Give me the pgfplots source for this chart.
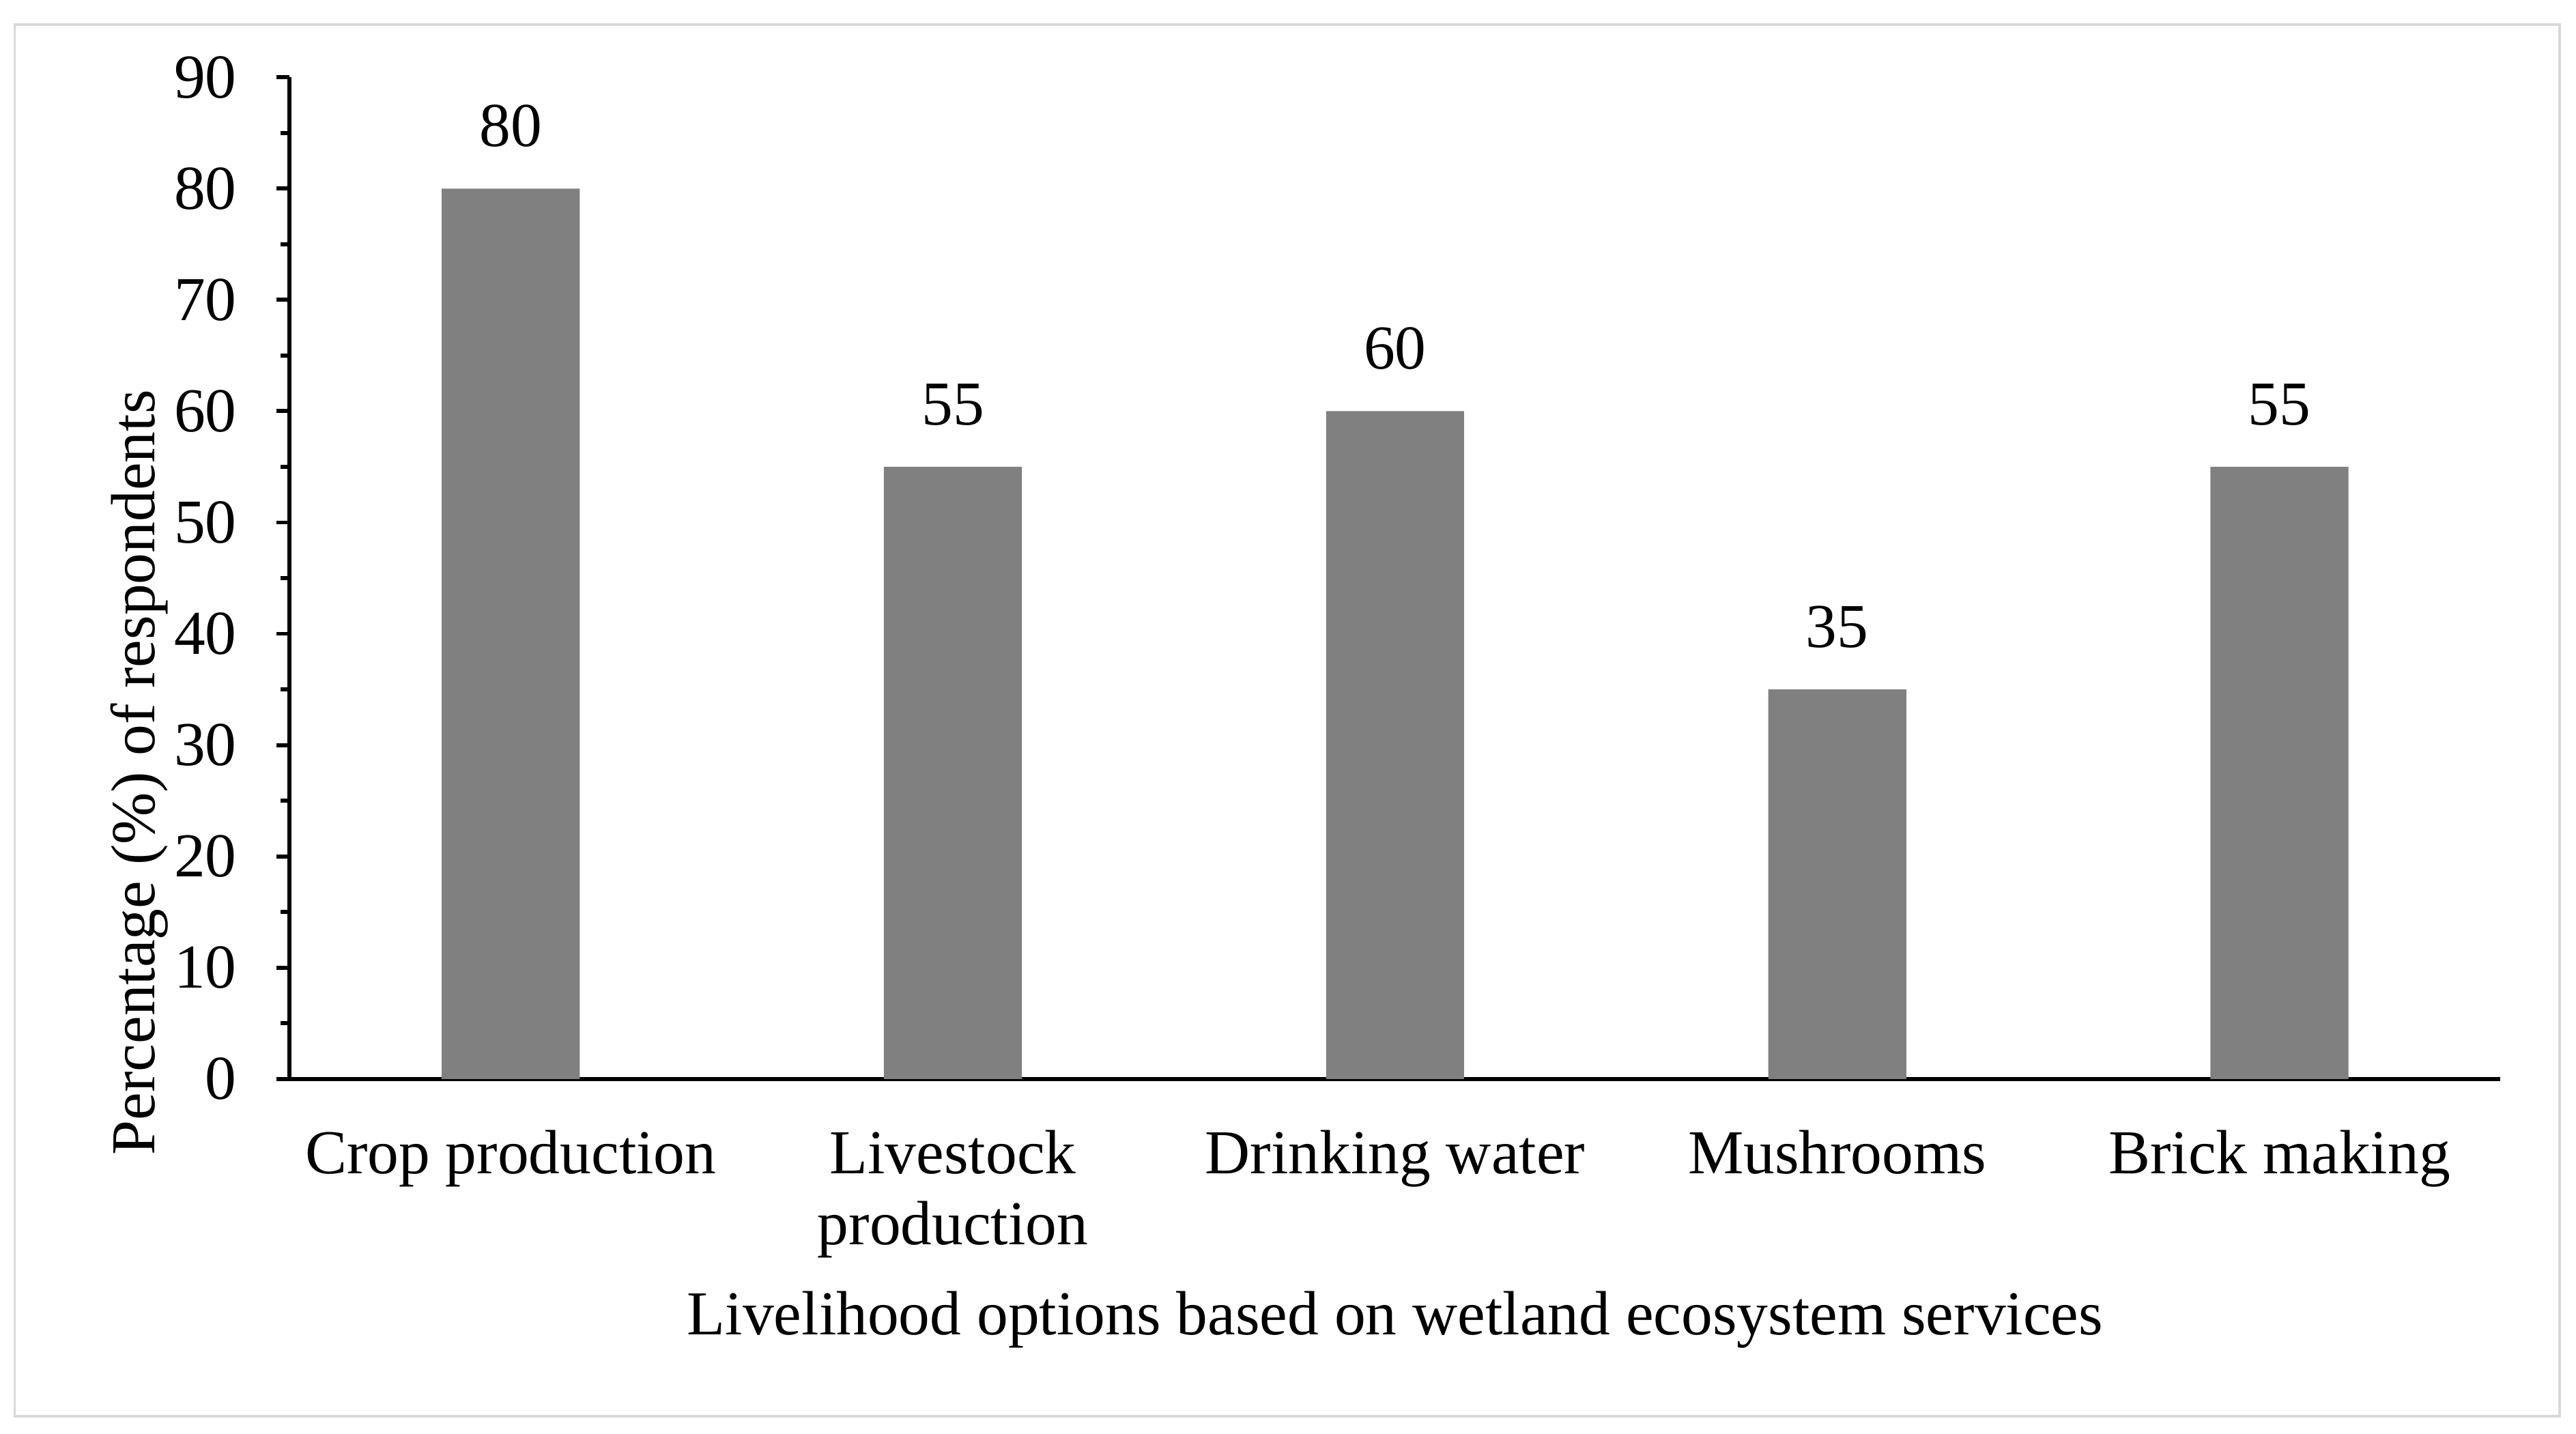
\documentclass[border=0pt]{standalone}
\usepackage{fontspec}
\setmainfont{Liberation Serif}
\usepackage{pgfplots}
\pgfplotsset{compat=1.18}

\definecolor{barfill}{HTML}{808080}
\definecolor{framegray}{HTML}{D9D9D9}

\begin{document}
\begin{tikzpicture}
\begin{axis}[
    name=ax,
    scale only axis,
    width=389.3pt, height=176.4pt,
    ybar, bar width=24.3pt,
    xmin=-0.5, xmax=4.5,
    ymin=0, ymax=90,
    xtick={0,1,2,3,4},
    xticklabels={Crop production, Livestock\\production, Drinking water, Mushrooms, Brick making},
    ytick={0,10,...,90},
    minor y tick num=1,
    axis x line*=bottom, axis y line*=left,
    axis line style={line width=0.7pt, -},
    x axis line style={shorten <=-2.3pt},
    tick align=outside,
    major tick length=2.3pt, minor tick length=1.6pt,
    xtick style={draw=none},
    ytick style={line width=0.7pt, black},
    /pgf/number format/assume math mode=true,
    tick label style={font=\fontsize{11}{12.5}\selectfont},
    xticklabel style={align=center, anchor=north, yshift=-3.2pt},
    yticklabel style={anchor=east, xshift=-3.5pt},
    ylabel={Percentage (\%) of respondents},
    ylabel style={font=\fontsize{11}{12.5}\selectfont, at={(axis description cs:-0.068,0.306)}, anchor=center, rotate=0},
    xlabel={Livelihood options based on wetland ecosystem services},
    xlabel style={font=\fontsize{11}{12.5}\selectfont, at={(axis description cs:0.5,-0.24)}, anchor=center},
    nodes near coords,
    nodes near coords style={font=\fontsize{11}{12.5}\selectfont, yshift=3.8pt},
    clip=false,
]
\addplot[fill=barfill, draw=none] coordinates {(0,80) (1,55) (2,60) (3,35) (4,55)};
\end{axis}
\draw[framegray, line width=0.45pt] ([xshift=-48.4pt,yshift=-59.4pt]ax.south west) rectangle ([xshift=10.4pt,yshift=9.3pt]ax.north east);
\useasboundingbox ([xshift=-51pt,yshift=-62.4pt]ax.south west) rectangle ([xshift=13.3pt,yshift=13.6pt]ax.north east);
\end{tikzpicture}
\end{document}
